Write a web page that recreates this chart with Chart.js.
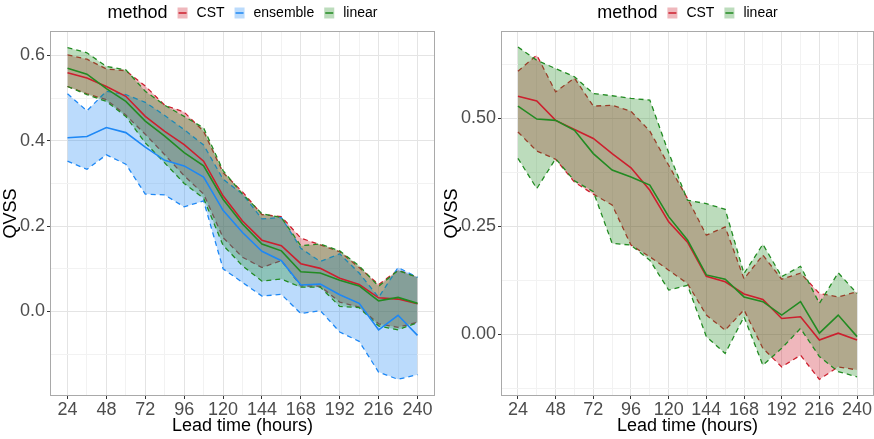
<!DOCTYPE html>
<html>
<head>
<meta charset="utf-8">
<script src="https://cdn.jsdelivr.net/npm/chart.js@4.4.1/dist/chart.umd.min.js"></script>
<style>
  html, body { margin: 0; padding: 0; background: #fff; }
  #wrap { position: relative; width: 874px; height: 439px; }
  canvas { position: absolute; top: 0; }
  #left { left: 0; }
  #right { left: 437px; }
</style>
</head>
<body>
<div id="wrap">
  <canvas id="left" width="437" height="439"></canvas>
  <canvas id="right" width="437" height="439"></canvas>
</div>
<script>
// --- DATA ---
const hours = [24, 36, 48, 60, 72, 84, 96, 108, 120, 132, 144, 156, 168, 180, 192, 204, 216, 228, 240];
const xMajor = [24, 48, 72, 96, 120, 144, 168, 192, 216, 240];
const xMinor = [36, 60, 84, 108, 132, 156, 180, 204, 228];

// left panel: CST, ensemble, linear
const cstUpperL = [0.601, 0.591, 0.568, 0.564, 0.528, 0.483, 0.467, 0.422, 0.325, 0.280, 0.227, 0.222, 0.172, 0.156, 0.140, 0.103, 0.063, 0.097, 0.080];
const cstMeanL  = [0.559, 0.547, 0.527, 0.504, 0.457, 0.422, 0.391, 0.352, 0.271, 0.212, 0.167, 0.154, 0.112, 0.101, 0.078, 0.063, 0.032, 0.029, 0.018];
const cstLowerL = [0.527, 0.510, 0.496, 0.460, 0.415, 0.367, 0.318, 0.275, 0.173, 0.127, 0.103, 0.119, 0.060, 0.059, 0.022, 0.010, -0.029, -0.037, -0.025];
const ensUpperL = [0.510, 0.470, 0.516, 0.508, 0.490, 0.459, 0.426, 0.390, 0.310, 0.275, 0.217, 0.220, 0.148, 0.117, 0.135, 0.090, 0.033, 0.103, 0.080];
const ensMeanL  = [0.407, 0.410, 0.431, 0.419, 0.385, 0.354, 0.341, 0.315, 0.237, 0.185, 0.141, 0.119, 0.062, 0.064, 0.039, 0.019, -0.043, -0.009, -0.056];
const ensLowerL = [0.352, 0.333, 0.367, 0.345, 0.275, 0.273, 0.245, 0.259, 0.100, 0.068, 0.036, 0.040, -0.005, 0.002, -0.048, -0.070, -0.142, -0.159, -0.148];
const linUpperL = [0.618, 0.606, 0.574, 0.566, 0.516, 0.483, 0.457, 0.430, 0.330, 0.275, 0.229, 0.220, 0.154, 0.158, 0.142, 0.107, 0.059, 0.096, 0.080];
const linMeanL  = [0.570, 0.556, 0.522, 0.492, 0.446, 0.411, 0.372, 0.341, 0.263, 0.205, 0.158, 0.142, 0.093, 0.090, 0.073, 0.060, 0.025, 0.033, 0.019];
const linLowerL = [0.527, 0.508, 0.492, 0.457, 0.395, 0.348, 0.300, 0.265, 0.155, 0.107, 0.071, 0.076, 0.057, 0.057, 0.012, 0.009, -0.034, -0.043, -0.026];

// right panel: CST, linear
const cstUpperR = [0.609, 0.646, 0.561, 0.593, 0.528, 0.530, 0.516, 0.470, 0.391, 0.314, 0.229, 0.248, 0.128, 0.183, 0.127, 0.141, 0.094, 0.086, 0.098];
const cstMeanR  = [0.551, 0.540, 0.495, 0.474, 0.453, 0.418, 0.385, 0.333, 0.260, 0.213, 0.134, 0.121, 0.093, 0.080, 0.036, 0.040, -0.014, 0.002, -0.014];
const cstLowerR = [0.468, 0.424, 0.405, 0.352, 0.324, 0.299, 0.206, 0.179, 0.148, 0.117, 0.044, 0.009, 0.056, -0.033, -0.076, -0.049, -0.105, -0.076, -0.083];
const linUpperR = [0.665, 0.634, 0.615, 0.596, 0.557, 0.552, 0.546, 0.542, 0.420, 0.310, 0.302, 0.289, 0.140, 0.208, 0.133, 0.157, 0.071, 0.142, 0.094];
const linMeanR  = [0.528, 0.498, 0.495, 0.472, 0.418, 0.380, 0.364, 0.345, 0.272, 0.218, 0.137, 0.127, 0.086, 0.075, 0.044, 0.075, 0.002, 0.044, -0.006];
const linLowerR = [0.407, 0.337, 0.406, 0.355, 0.330, 0.210, 0.206, 0.171, 0.102, 0.113, -0.006, -0.045, 0.040, -0.072, -0.033, 0.013, -0.052, -0.087, -0.099];

const yMajorL = [0, 0.2, 0.4, 0.6];
const yMinorL = [-0.1, 0.1, 0.3, 0.5];
const yMajorR = [0, 0.25, 0.5];
const yMinorR = [-0.125, 0.125, 0.375, 0.625];

const FONT = "'Liberation Sans', Arial, sans-serif";
const COLORS = {
  CST:      { line: "#CD1F2E", fill: "rgba(205,31,46,0.32)" },
  ensemble: { line: "#1E88F5", fill: "rgba(30,136,245,0.30)" },
  linear:   { line: "#228B22", fill: "rgba(34,139,34,0.30)" }
};

const isIn = (arr, v) => arr.some(a => Math.abs(a - v) < 1e-9);
const pts = arr => hours.map((h, i) => ({ x: h, y: arr[i] }));

// ribbons first (CST, ensemble, linear), then the mean lines on top
function buildDatasets(series) {
  const ds = [];
  let order = 100;
  series.forEach(s => {
    const c = COLORS[s.name];
    const lowIdx = ds.length + 1;
    ds.push({ label: s.name + " upper", data: pts(s.up), borderColor: c.line, borderWidth: 1.3, borderDash: [5, 4],
      pointRadius: 0, tension: 0, fill: { target: lowIdx, above: c.fill, below: c.fill }, order: order-- });
    ds.push({ label: s.name + " lower", data: pts(s.lo), borderColor: c.line, borderWidth: 1.3, borderDash: [5, 4],
      pointRadius: 0, tension: 0, fill: false, order: order-- });
  });
  series.forEach(s => {
    ds.push({ label: s.name, data: pts(s.mean), borderColor: COLORS[s.name].line, borderWidth: 1.6,
      pointRadius: 0, tension: 0, fill: false, order: order-- });
  });
  return ds;
}

const borderPlugin = {
  id: "panelBorder",
  afterDatasetsDraw(chart) {
    const { ctx, chartArea: a } = chart;
    ctx.save();
    ctx.strokeStyle = "#a9a9a9";
    ctx.lineWidth = 1;
    ctx.strokeRect(a.left + 0.5, a.top + 0.5, a.right - a.left - 1, a.bottom - a.top - 1);
    ctx.restore();
  }
};

const legendPlugin = {
  id: "ggLegend",
  afterDraw(chart, args, opts) {
    const { ctx, chartArea: a } = chart;
    const items = opts.items || [];
    ctx.save();
    ctx.textBaseline = "middle";
    ctx.textAlign = "left";
    ctx.font = "18px " + FONT;
    const titleW = ctx.measureText("method").width;
    ctx.font = "14px " + FONT;
    const widths = items.map(n => ctx.measureText(n).width);
    const keyW = 10, gapBefore = 10, gapAfter = 9;
    let total = titleW;
    widths.forEach(w => { total += gapBefore + keyW + gapAfter + w; });
    let x = (a.left + a.right) / 2 - total / 2;
    const yc = 13;
    ctx.fillStyle = "#000";
    ctx.font = "18px " + FONT;
    ctx.fillText("method", x, yc);
    x += titleW;
    items.forEach((n, i) => {
      x += gapBefore;
      const c = COLORS[n];
      ctx.fillStyle = c.fill;
      ctx.fillRect(x, yc - 5.5, keyW, 11);
      ctx.strokeStyle = c.line;
      ctx.lineWidth = 1.5;
      ctx.beginPath();
      ctx.moveTo(x + 1, yc);
      ctx.lineTo(x + keyW - 1, yc);
      ctx.stroke();
      x += keyW + gapAfter;
      ctx.fillStyle = "#000";
      ctx.font = "14px " + FONT;
      ctx.fillText(n, x, yc);
      x += widths[i];
    });
    ctx.restore();
  }
};

function makePanel(id, series, yMin, yMax, yMajor, yMinor, digits, yWidth, yTitlePad, padRight) {
  const xTicks = hours.slice();
  const yTicks = yMajor.concat(yMinor).sort((a, b) => a - b);
  return new Chart(document.getElementById(id).getContext("2d"), {
    type: "line",
    data: { datasets: buildDatasets(series) },
    options: {
      responsive: false, animation: false, devicePixelRatio: 1,
      layout: { padding: { top: 31, left: 0, right: padRight, bottom: 0 } },
      plugins: { legend: { display: false }, tooltip: { enabled: false },
        ggLegend: { items: series.map(s => s.name) } },
      scales: {
        x: { type: "linear", min: 13.2, max: 250.8,
          afterBuildTicks: s => { s.ticks = xTicks.map(v => ({ value: v })); },
          afterFit: s => { s.height = 43; },
          border: { display: false },
          grid: { color: c => isIn(xMajor, c.tick.value) ? "#e4e4e4" : "#f2f2f2", lineWidth: 1, tickLength: 3,
            tickColor: c => isIn(xMajor, c.tick.value) ? "#333333" : "rgba(0,0,0,0)" },
          ticks: { autoSkip: false, maxRotation: 0, padding: 0, color: "#4d4d4d", font: { family: FONT, size: 18 },
            callback: v => isIn(xMajor, v) ? String(v) : "" },
          title: { display: true, text: "Lead time (hours)", color: "#000", font: { family: FONT, size: 18 },
            padding: { top: 0, bottom: 2 } } },
        y: { type: "linear", min: yMin, max: yMax,
          afterBuildTicks: s => { s.ticks = yTicks.map(v => ({ value: v })); },
          afterFit: s => { s.width = yWidth; },
          border: { display: false },
          grid: { color: c => isIn(yMajor, c.tick.value) ? "#e4e4e4" : "#f2f2f2", lineWidth: 1, tickLength: 3,
            tickColor: c => isIn(yMajor, c.tick.value) ? "#333333" : "rgba(0,0,0,0)" },
          ticks: { autoSkip: false, padding: 2, color: "#4d4d4d", font: { family: FONT, size: 18 },
            callback: v => isIn(yMajor, v) ? v.toFixed(digits) : "" },
          title: { display: true, text: "QVSS", color: "#000", font: { family: FONT, size: 18 },
            padding: { top: yTitlePad, bottom: 0 } } }
      }
    },
    plugins: [borderPlugin, legendPlugin]
  });
}

makePanel("left", [
  { name: "CST", up: cstUpperL, lo: cstLowerL, mean: cstMeanL },
  { name: "ensemble", up: ensUpperL, lo: ensLowerL, mean: ensMeanL },
  { name: "linear", up: linUpperL, lo: linLowerL, mean: linMeanL }
], -0.198, 0.657, yMajorL, yMinorL, 1, 50, 0, 2);

makePanel("right", [
  { name: "CST", up: cstUpperR, lo: cstLowerR, mean: cstMeanR },
  { name: "linear", up: linUpperR, lo: linLowerR, mean: linMeanR }
], -0.1435, 0.702, yMajorR, yMinorR, 2, 64, 4, 0);
</script>
</body>
</html>
